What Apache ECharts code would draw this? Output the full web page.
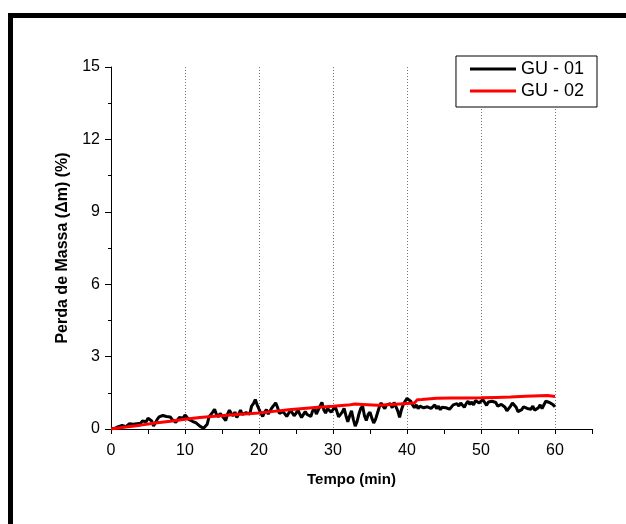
<!DOCTYPE html>
<html>
<head>
<meta charset="utf-8">
<script src="https://cdn.jsdelivr.net/npm/echarts@6/dist/echarts.min.js"></script>
<style>
html,body{margin:0;padding:0;background:#fff;}
#c{width:626px;height:524px;}
</style>
</head>
<body>
<div id="c"></div>
<script>
// Data
const seriesNames = ['GU - 01', 'GU - 02'];
const gu01Time = [0,0.25,0.5,0.75,1,1.25,1.5,1.75,2,2.25,2.5,2.75,3,3.25,3.5,3.75,4,4.25,4.5,4.75,5,5.25,5.5,5.75,6,6.25,6.5,6.75,7,7.25,7.5,7.75,8,8.25,8.5,8.75,9,9.25,9.5,9.75,10,10.25,10.5,10.75,11,11.25,11.5,11.75,12,12.25,12.5,12.75,13,13.25,13.5,13.75,14,14.25,14.5,14.75,15,15.25,15.5,15.75,16,16.25,16.5,16.75,17,17.25,17.5,17.75,18,18.25,18.5,18.75,19,19.25,19.5,19.75,20,20.25,20.5,20.75,21,21.25,21.5,21.75,22,22.25,22.5,22.75,23,23.25,23.5,23.75,24,24.25,24.5,24.75,25,25.25,25.5,25.75,26,26.25,26.5,26.75,27,27.25,27.5,27.75,28,28.25,28.5,28.75,29,29.25,29.5,29.75,30,30.25,30.5,30.75,31,31.25,31.5,31.75,32,32.25,32.5,32.75,33,33.25,33.5,33.75,34,34.25,34.5,34.75,35,35.25,35.5,35.75,36,36.25,36.5,36.75,37,37.25,37.5,37.75,38,38.25,38.5,38.75,39,39.25,39.5,39.75,40,40.25,40.5,40.75,41,41.25,41.5,41.75,42,42.25,42.5,42.75,43,43.25,43.5,43.75,44,44.25,44.5,44.75,45,45.25,45.5,45.75,46,46.25,46.5,46.75,47,47.25,47.5,47.75,48,48.25,48.5,48.75,49,49.25,49.5,49.75,50,50.25,50.5,50.75,51,51.25,51.5,51.75,52,52.25,52.5,52.75,53,53.25,53.5,53.75,54,54.25,54.5,54.75,55,55.25,55.5,55.75,56,56.25,56.5,56.75,57,57.25,57.5,57.75,58,58.25,58.5,58.75,59,59.25,59.5,59.75,60];
const gu01Values = [
0.02,0.04,0.03,0.08,0.10,0.06,0.15,0.18,0.10,0.14,0.22,0.16,0.20,0.27,0.22,0.30,0.24,0.33,0.38,0.30,
0.45,0.40,0.33,0.12,0.08,0.40,0.50,0.42,0.56,0.48,0.52,0.60,0.50,0.40,0.46,0.28,0.35,0.48,0.55,0.45,
0.58,0.50,0.40,0.46,0.32,0.38,0.25,0.18,0.12,0.05,0.03,0.08,0.20,0.50,0.42,0.70,0.82,0.60,0.50,0.65,
0.58,0.45,0.35,0.62,0.78,0.65,0.55,0.70,0.48,0.62,0.78,0.60,0.52,0.68,0.75,0.62,0.95,1.05,1.22,1.00,
0.82,0.65,0.52,0.70,0.80,0.62,0.58,0.88,0.98,1.08,0.90,0.65,0.58,0.72,0.66,0.52,0.60,0.78,0.70,0.55,
0.65,0.80,0.62,0.48,0.55,0.72,0.60,0.68,0.52,0.75,0.88,0.62,0.70,0.95,1.10,0.80,0.66,0.85,0.92,0.70,
0.80,0.95,0.75,0.50,0.42,0.70,0.85,0.55,0.30,0.55,0.75,0.40,0.12,0.30,0.62,0.85,0.95,0.55,0.35,0.60,
0.70,0.45,0.25,0.40,0.65,0.90,1.08,0.95,0.85,1.00,0.92,1.05,0.88,1.10,1.02,0.75,0.48,0.80,1.02,1.15,
1.27,1.22,1.15,1.00,0.88,1.00,0.85,0.95,1.02,0.88,0.80,0.92,0.98,0.85,0.90,1.00,0.85,0.95,0.80,0.90,
0.98,0.88,0.95,0.82,0.90,1.00,0.92,1.05,0.95,1.08,1.00,0.90,1.05,1.15,1.02,1.12,1.00,1.18,1.22,1.08,
1.15,1.22,1.10,0.98,1.12,1.20,1.15,1.22,1.10,0.95,0.88,1.02,1.10,0.90,0.75,0.82,0.95,1.08,1.12,0.90,
0.72,0.68,0.80,0.92,0.98,0.85,0.90,0.82,0.95,0.78,0.72,0.88,1.00,0.85,0.92,1.15,1.22,1.10,1.18,1.00,
0.92];
const gu02Time = [0,2,4,6,8,10,12,14,16,18,20,22,24,26,28,30,32,33,34,36,38,40,41,41.4,42,44,46,48,50,52,54,56,58,59,60];
const gu02Values = [0,0.08,0.16,0.25,0.32,0.40,0.48,0.53,0.58,0.62,0.66,0.73,0.80,0.85,0.90,0.94,0.99,1.04,1.02,0.98,1.02,1.06,1.08,1.21,1.22,1.27,1.28,1.28,1.29,1.31,1.33,1.36,1.38,1.39,1.35];
const xTickLabels = ['0','10','20','30','40','50','60'];
const yTickLabels = ['0','3','6','9','12','15'];

const FONT = '"Liberation Sans", Arial, sans-serif';
const pair = (xs, ys) => xs.map((x, i) => [x, ys[i]]);

const chart = echarts.init(document.getElementById('c'), null, {renderer: 'canvas'});
chart.setOption({
  animation: false,
  backgroundColor: '#fff',
  grid: {left: 111, right: 34, top: 67, bottom: 95, containLabel: false},
  legend: {
    orient: 'vertical',
    right: 29, top: 56,
    padding: [4, 13, 7, 14],
    itemGap: 4,
    itemWidth: 46, itemHeight: 3,
    icon: 'rect',
    borderColor: '#000', borderWidth: 1,
    backgroundColor: '#fff',
    textStyle: {fontFamily: FONT, fontSize: 18, color: '#000'},
    data: seriesNames
  },
  xAxis: [{
    type: 'value', min: 0, max: 65, interval: 10,
    position: 'bottom',
    axisLine: {show: true, onZero: false, lineStyle: {color: '#000', width: 1}},
    axisTick: {show: false},
    axisLabel: {
      fontFamily: FONT, fontSize: 16, color: '#000', margin: 14,
      formatter: v => xTickLabels.indexOf(String(v)) >= 0 ? String(v) : ''
    },
    splitLine: {show: true, showMinLine: false, showMaxLine: false,
      lineStyle: {color: '#777', type: [1, 2], width: 1}},
    name: 'Tempo (min)', nameLocation: 'middle', nameGap: 43,
    nameTextStyle: {fontFamily: FONT, fontSize: 15, fontWeight: 'bold', color: '#000'}
  }, {
    type: 'value', min: 0, max: 65, interval: 5,
    position: 'bottom',
    axisLine: {show: true, onZero: false, lineStyle: {color: '#000', width: 1}},
    axisTick: {show: true, inside: false, length: 5, lineStyle: {color: '#000'}},
    axisLabel: {show: false},
    splitLine: {show: false}
  }],
  yAxis: {
    type: 'value', min: 0, max: 15, interval: 3,
    axisLine: {show: true, onZero: false, lineStyle: {color: '#000', width: 1}},
    axisTick: {show: true, inside: false, length: 6, lineStyle: {color: '#000'}},
    minorTick: {show: true, splitNumber: 2, length: 3, lineStyle: {color: '#000'}},
    axisLabel: {
      fontFamily: FONT, fontSize: 16, color: '#000', margin: 11,
      formatter: v => yTickLabels.indexOf(String(v)) >= 0 ? String(v) : ''
    },
    splitLine: {show: false},
    name: 'Perda de Massa (\u0394m) (%)', nameLocation: 'middle', nameGap: 40,
    nameTextStyle: {fontFamily: FONT, fontSize: 16, fontWeight: 'bold', color: '#000'}
  },
  graphic: [
    {type: 'rect', shape: {x: 8, y: 13, width: 618, height: 5}, style: {fill: '#000'}, silent: true},
    {type: 'rect', shape: {x: 8, y: 13, width: 5, height: 511}, style: {fill: '#000'}, silent: true}
  ],
  series: [{
    name: seriesNames[0], type: 'line', xAxisIndex: 0,
    data: pair(gu01Time, gu01Values),
    showSymbol: false, symbol: 'none',
    lineStyle: {color: '#000', width: 3},
    itemStyle: {color: '#000'}, z: 2
  }, {
    name: seriesNames[1], type: 'line', xAxisIndex: 0,
    data: pair(gu02Time, gu02Values),
    showSymbol: false, symbol: 'none',
    lineStyle: {color: '#ff0000', width: 3},
    itemStyle: {color: '#ff0000'}, z: 3
  }]
});
</script>
</body>
</html>
